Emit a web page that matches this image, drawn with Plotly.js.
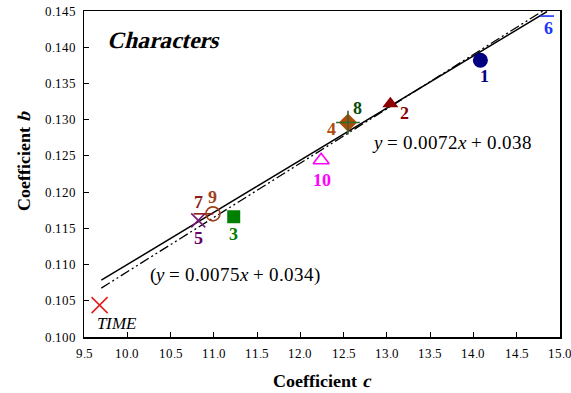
<!DOCTYPE html>
<html>
<head>
<meta charset="utf-8">
<script src="https://cdn.plot.ly/plotly-3.0.1.min.js"></script>
<style>
@font-face{font-family:"TS";src:local("Liberation Serif"),local("LiberationSerif");font-weight:400;font-style:normal}
@font-face{font-family:"TS";src:local("Liberation Serif Bold"),local("LiberationSerif-Bold");font-weight:700;font-style:normal}
@font-face{font-family:"TS";src:local("Liberation Serif Italic"),local("LiberationSerif-Italic");font-weight:400;font-style:italic}
@font-face{font-family:"TSB";src:local("Liberation Serif Bold"),local("LiberationSerif-Bold");font-weight:700;font-style:normal}
html,body{margin:0;padding:0;background:#fff}
#chart{width:571px;height:393px}
</style>
</head>
<body>
<div id="chart"></div>
<script>
// ---- data ----
var labels = ["1", "2", "3", "4", "5", "6", "7", "8", "9", "10", "TIME"];
var coefC  = [14.08, 13.04, 11.23, 12.55, 10.82, 14.85, 10.88, 12.55, 10.99, 12.24, 9.68];
var coefB  = [0.1382, 0.1322, 0.1166, 0.1296, 0.1161, 0.1443, 0.1170, 0.1296, 0.1170, 0.1244, 0.1044];
var fitSolid   = {slope: 0.0072, intercept: 0.038};
var fitDashDot = {slope: 0.0075, intercept: 0.034};
var fitRange = [9.7, 14.85];
var xTicks = [9.5, 10.0, 10.5, 11.0, 11.5, 12.0, 12.5, 13.0, 13.5, 14.0, 14.5, 15.0];
var yTicks = [0.100, 0.105, 0.110, 0.115, 0.120, 0.125, 0.130, 0.135, 0.140, 0.145];

// ---- styles (per label) ----
var style = {
  "1":   {symbol: "circle", size: 15, color: "#000080", lc: "#000080", ax: 4, ay: 16},
  "2":   {symbol: "triangle-up", size: 14, color: "#8b0000", lc: "#8b0000", ax: 14, ay: 9},
  "3":   {symbol: "square", size: 13, color: "#008000", lc: "#008000", ax: 0, ay: 17},
  "4":   {symbol: "diamond", size: 14, color: "#b04a0a", lc: "#b04a0a", ax: -16, ay: 6},
  "5":   {symbol: "x-thin", size: 14, color: "#7a1a7a", lc: "#660066", ax: 0, ay: 18},
  "6":   {symbol: "line-ew", size: 10, color: "#1a33ff", lc: "#1a33ff", ax: 1, ay: 12},
  "7":   {symbol: "line-ew", size: 14, color: "#8b1a1a", lc: "#8b1a1a", ax: -5, ay: -12},
  "8":   {symbol: "cross-thin", size: 17, color: "#2e6b2e", lc: "#0a4d0a", ax: 10, ay: -15},
  "9":   {symbol: "circle-open", size: 14, color: "#a0401a", lc: "#a0401a", ax: 0, ay: -17},
  "10":  {symbol: "triangle-up-open", size: 14, color: "#ff00ff", lc: "#ff00ff", ax: 1, ay: 20},
  "TIME":{symbol: "x-thin", size: 16, color: "#e02020", lc: "#000000", ax: 17, ay: 18}
};

var serif = "TS, Liberation Serif, serif";
var serifBold = "TSB, Liberation Serif, serif";

function fitLine(f) {
  var xs = fitRange.slice();
  return {x: xs, y: xs.map(function (v) { return f.slope * v + f.intercept; })};
}

function draw() {
  var traces = [];
  var ls = fitLine(fitSolid), ld = fitLine(fitDashDot);
  traces.push({x: ld.x, y: ld.y, mode: "lines", line: {color: "#000", width: 1.3, dash: "10px,3px,2px,3px,2px,3px"}, hoverinfo: "skip"});
  traces.push({x: ls.x, y: ls.y, mode: "lines", line: {color: "#000", width: 1.5}, hoverinfo: "skip"});

  labels.forEach(function (lab, i) {
    var s = style[lab];
    var thin = /thin|line|open/.test(s.symbol);
    traces.push({
      x: [coefC[i]], y: [coefB[i]], mode: "markers",
      marker: {symbol: s.symbol, size: s.size, color: s.color, line: {color: s.color, width: thin ? 1.6 : 0}},
      hoverinfo: "skip"
    });
  });

  var annotations = labels.map(function (lab, i) {
    var s = style[lab];
    return {
      x: coefC[i], y: coefB[i], xref: "x", yref: "y",
      text: lab === "TIME" ? "<i>TIME</i>" : "<b>" + lab + "</b>", showarrow: false,
      xshift: s.ax, yshift: -s.ay,
      font: {family: serif, size: lab === "TIME" ? 17 : 18, color: s.lc}
    };
  });

  annotations.push({
    x: 13.75, y: 0.1269, xref: "x", yref: "y", showarrow: false,
    text: "<i>y</i> = 0.0072<i>x</i> + 0.038", font: {family: serif, size: 19, color: "#000"}
  });
  annotations.push({
    x: 11.24, y: 0.1086, xref: "x", yref: "y", showarrow: false,
    text: "(<i>y</i> = 0.0075<i>x</i> + 0.034)", font: {family: serif, size: 19, color: "#000"}
  });
  annotations.push({
    x: 9.74, y: 0.1410, xref: "x", yref: "y", showarrow: false, xanchor: "left",
    text: "<b><i>Characters</i></b>", font: {family: serifBold, size: 23.5, color: "#000"}
  });
  // axis titles
  annotations.push({
    x: -0.126, y: 0.54, xref: "paper", yref: "paper", xanchor: "center", yanchor: "middle",
    showarrow: false, textangle: -90,
    text: "<b>Coefficient <i>b</i></b>", font: {family: serifBold, size: 18, color: "#000"}
  });
  annotations.push({
    x: 0.5, y: -0.135, xref: "paper", yref: "paper", xanchor: "center", yanchor: "middle",
    showarrow: false,
    text: "<b>Coefficient <i>c</i></b>", font: {family: serifBold, size: 18, color: "#000"}
  });

  var layout = {
    width: 571, height: 393,
    margin: {l: 84, r: 11, t: 11, b: 56},
    paper_bgcolor: "#fff", plot_bgcolor: "#fff",
    showlegend: false,
    font: {family: serif, size: 13, color: "#000"},
    xaxis: {
      range: [9.5, 15.0], tickvals: xTicks, ticktext: xTicks.map(function (v) { return v.toFixed(1); }),
      ticks: "inside", ticklen: 5, tickcolor: "#000", showgrid: false, zeroline: false,
      showline: true, linecolor: "#000", linewidth: 1.5, mirror: true, ticklabeloverflow: "allow",
      ticklabelstandoff: 4, tickfont: {family: serif, size: 13}
    },
    yaxis: {
      range: [0.100, 0.145], tickvals: yTicks, ticktext: yTicks.map(function (v) { return v.toFixed(3); }),
      ticks: "inside", ticklen: 5, tickcolor: "#000", showgrid: false, zeroline: false,
      showline: true, linecolor: "#000", linewidth: 1.5, mirror: true, ticklabeloverflow: "allow",
      ticklabelstandoff: 4, tickfont: {family: serif, size: 13}
    },
    annotations: annotations
  };

  Plotly.newPlot("chart", traces, layout, {staticPlot: true, displayModeBar: false});
}

var loads = ["400 13px TS", "700 18px TS", "italic 400 18px TS", "700 18px TSB"].map(function (f) {
  return document.fonts && document.fonts.load ? document.fonts.load(f, "Characters 0.145") : Promise.resolve();
});
Promise.all(loads).then(draw, draw);
</script>
</body>
</html>
